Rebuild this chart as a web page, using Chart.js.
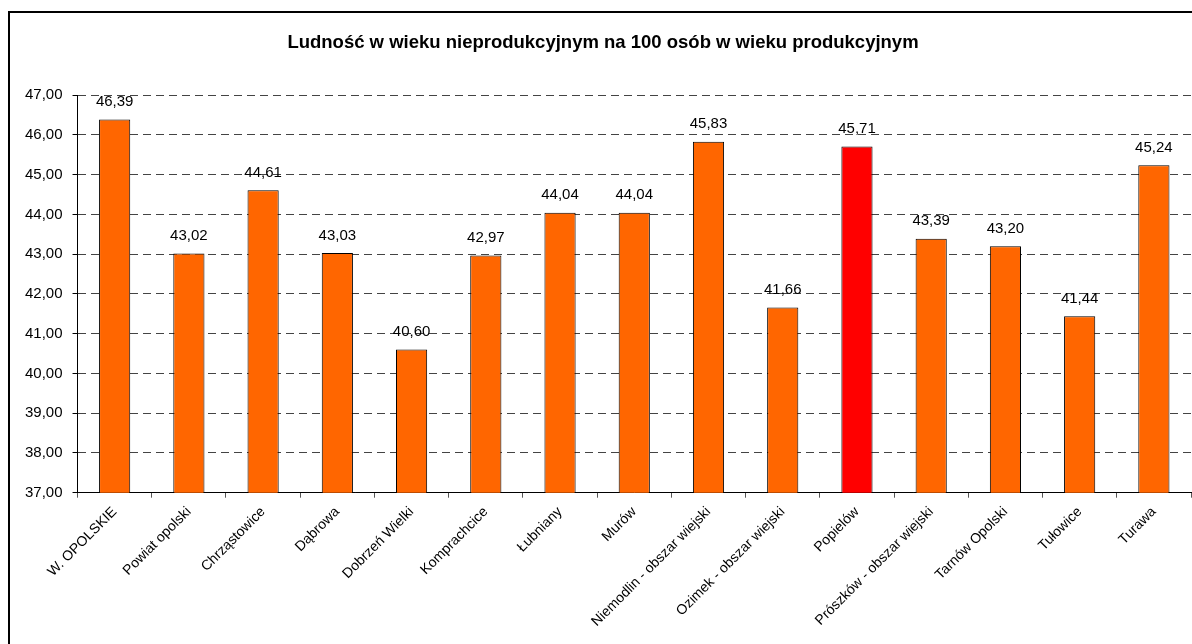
<!DOCTYPE html>
<html>
<head>
<meta charset="utf-8">
<script src="https://cdn.jsdelivr.net/npm/chart.js@4"></script>
<style>
  html, body { margin: 0; padding: 0; background: #fff; overflow: hidden; }
  #wrap { position: relative; width: 1192px; height: 644px; }
</style>
</head>
<body>
<div id="wrap"><canvas id="myChart"></canvas></div>
<script>
'use strict';
// categories and values
const gminy = [
  'W. OPOLSKIE', 'Powiat opolski', 'Chrząstowice', 'Dąbrowa', 'Dobrzeń Wielki',
  'Komprachcice', 'Łubniany', 'Murów', 'Niemodlin - obszar wiejski', 'Ozimek - obszar wiejski',
  'Popielów', 'Prószków - obszar wiejski', 'Tarnów Opolski', 'Tułowice', 'Turawa'
];
const wartosci = [46.39, 43.02, 44.61, 43.03, 40.60, 42.97, 44.04, 44.04, 45.83, 41.66, 45.71, 43.39, 43.20, 41.44, 45.24];
const wyrozniona = 'Popielów';
const yMin = 37;
const yMax = 47;
const tytul = 'Ludność w wieku nieprodukcyjnym na 100 osób w wieku produkcyjnym';

const fontName = '"Liberation Sans", Arial, sans-serif';
const kolory = gminy.map(g => g === wyrozniona ? '#ff0000' : '#ff6600');

function fmt(v){
  return v.toFixed(2).replace('.', ',');
}

// frame around the chart (only left + top visible in the picture)
const ramka = {
  id: 'ramka',
  beforeDraw(chart){
    const c = chart.ctx;
    c.save();
    c.strokeStyle = '#000';
    c.lineWidth = 2;
    c.beginPath();
    c.moveTo(9, chart.height + 5);
    c.lineTo(9, 12);
    c.lineTo(chart.width + 5, 12);
    c.stroke();
    c.restore();
  }
};

// value labels above bars
const etykiety = {
  id: 'etykiety',
  afterDatasetsDraw(chart){
    const c = chart.ctx;
    const meta = chart.getDatasetMeta(0);
    c.save();
    c.font = '15px ' + fontName;
    c.fillStyle = '#000';
    c.textAlign = 'center';
    c.textBaseline = 'bottom';
    meta.data.forEach((bar, i) => {
      c.fillText(fmt(wartosci[i]), bar.x, bar.y - 10);
    });
    c.restore();
  }
};

const ctx = document.getElementById('myChart').getContext('2d');
const myChart = new Chart(ctx, {
  type: 'bar',
  data: {
    labels: gminy,
    datasets: [{
      data: wartosci,
      backgroundColor: kolory,
      borderColor: '#000',
      borderWidth: 1,
      borderSkipped: false,
      categoryPercentage: 1,
      barPercentage: 0.42
    }]
  },
  options: {
    responsive: true,
    maintainAspectRatio: false,
    animation: false,
    layout: { padding: { left: 15, right: 1, top: 24, bottom: 8 } },
    plugins: {
      legend: { display: false },
      tooltip: { enabled: false },
      title: {
        display: true,
        text: tytul,
        color: '#000',
        font: { family: fontName, size: 18.5, weight: 'bold' },
        padding: { top: 8, bottom: 41 }
      }
    },
    scales: {
      y: {
        min: yMin,
        max: yMax,
        ticks: {
          stepSize: 1,
          color: '#000',
          padding: 10,
          font: { family: fontName, size: 15 },
          callback: v => fmt(v)
        },
        grid: {
          color: '#444',
          borderDash: [8, 5],
          tickLength: 5,
          tickColor: '#000',
          tickBorderDash: []
        },
        border: { display: true, color: '#000', width: 1, dash: [8, 5] }
      },
      x: {
        ticks: {
          color: '#000',
          minRotation: 45,
          maxRotation: 45,
          autoSkip: false,
          padding: 6,
          font: { family: fontName, size: 14 }
        },
        grid: {
          offset: true,
          drawOnChartArea: false,
          tickLength: 5,
          tickColor: '#555'
        },
        border: { display: true, color: '#000', width: 1 }
      }
    }
  },
  plugins: [ramka, etykiety]
});
</script>
</body>
</html>
